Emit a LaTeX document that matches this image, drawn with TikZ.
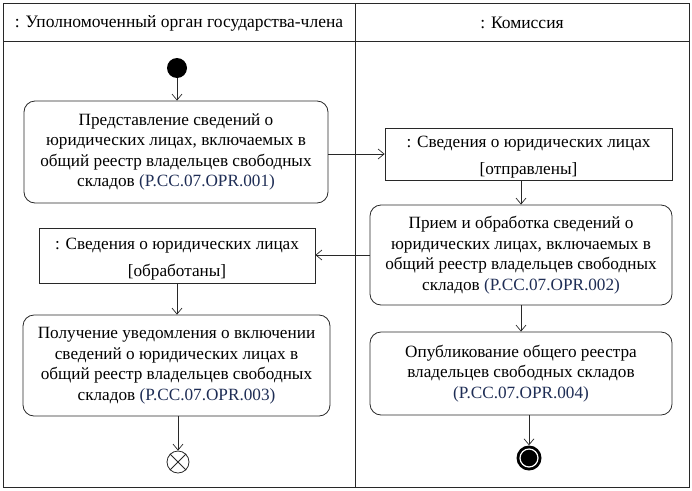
\documentclass[tikz,border=0pt]{standalone}
\usepackage{fontspec}
\setmainfont{Liberation Serif}
\usetikzlibrary{arrows.meta}
\definecolor{ln}{RGB}{40,40,40}
\definecolor{codec}{RGB}{30,45,85}
\newcommand{\cde}[1]{\textcolor{codec}{#1}}
\tikzset{
  act/.style={draw=ln, line width=0.8pt, rounded corners=11pt, align=center, inner sep=0pt, font=\fontsize{17.2}{20.6}\selectfont},
  obj/.style={draw=ln, line width=0.8pt, align=center, inner sep=0pt, font=\fontsize{17.2}{27}\selectfont},
  arr/.style={draw=ln, line width=0.7pt, -{Straight Barb[length=6pt,width=10pt]}},
  hdr/.style={font=\fontsize{17.5}{18}\selectfont, inner sep=0pt}
}
\begin{document}
\begin{tikzpicture}[x=1pt,y=-1pt]
\useasboundingbox (0,0) rectangle (692,490);
% frame
\draw[ln, line width=0.8pt] (3,3) rectangle (689,487);
\draw[ln, line width=0.8pt] (3,41) -- (689,41);
\draw[ln, line width=0.8pt] (355,3) -- (355,487);
\node[hdr] (h1) at (179,23) {: Уполномоченный орган государства-члена};
\node[hdr] (h2) at (522,23) {: Комиссия};
% start
\node[fill=black, circle, minimum size=20pt, inner sep=0pt] (start) at (177,68) {};
% activities
\node[act, minimum width=304pt, minimum height=102pt] (b1) at (176,152)
 {Представление сведений о\\юридических лицах, включаемых в\\общий реестр владельцев свободных\\складов \cde{(P.CC.07.OPR.001)}};
\node[obj, minimum width=287pt, minimum height=52pt] (o1) at (528.5,154)
 {\rule{0pt}{18pt}: Сведения о юридических лицах\\{[отправлены]}};
\node[act, minimum width=302pt, minimum height=100pt] (b2) at (521,255)
 {Прием и обработка сведений о\\юридических лицах, включаемых в\\общий реестр владельцев свободных\\складов \cde{(P.CC.07.OPR.002)}};
\node[obj, minimum width=276pt, minimum height=55pt] (o2) at (177,255.5)
 {\rule{0pt}{18pt}: Сведения о юридических лицах\\{[обработаны]}};
\node[act, minimum width=307pt, minimum height=101pt] (b3) at (176.5,365.5)
 {Получение уведомления о включении\\сведений о юридических лицах в\\общий реестр владельцев свободных\\складов \cde{(P.CC.07.OPR.003)}};
\node[act, minimum width=302pt, minimum height=83pt] (b4) at (521,373.5)
 {Опубликование общего реестра\\владельцев свободных складов\\\cde{(P.CC.07.OPR.004)}};
% flow final
\node[draw=ln, line width=0.8pt, circle, minimum size=22pt, inner sep=0pt] (ff) at (178,462) {};
\draw[ln, line width=0.8pt] (ff.north west) -- (ff.south east) (ff.north east) -- (ff.south west);
% activity final
\node[fill=black, circle, minimum size=25pt, inner sep=0pt] (af) at (529,458) {};
\node[draw=white, line width=1.2pt, fill=black, circle, minimum size=18pt, inner sep=0pt] (afi) at (af) {};
% connectors
\draw[arr] (start) -- (start |- b1.north);
\draw[arr] (b1.east |- o1.west) -- (o1.west);
\draw[arr] (o1.south -| b2.north) -- (b2.north);
\draw[arr] (b2.west) -- (o2.east |- b2.west);
\draw[arr] (o2.south) -- (o2.south |- b3.north);
\draw[arr] (b3.south -| ff.north) -- (ff.north);
\draw[arr] (b4.south -| af.north) -- (af.north);
\draw[arr] (b2.south) -- (b4.north);
\end{tikzpicture}
\end{document}
